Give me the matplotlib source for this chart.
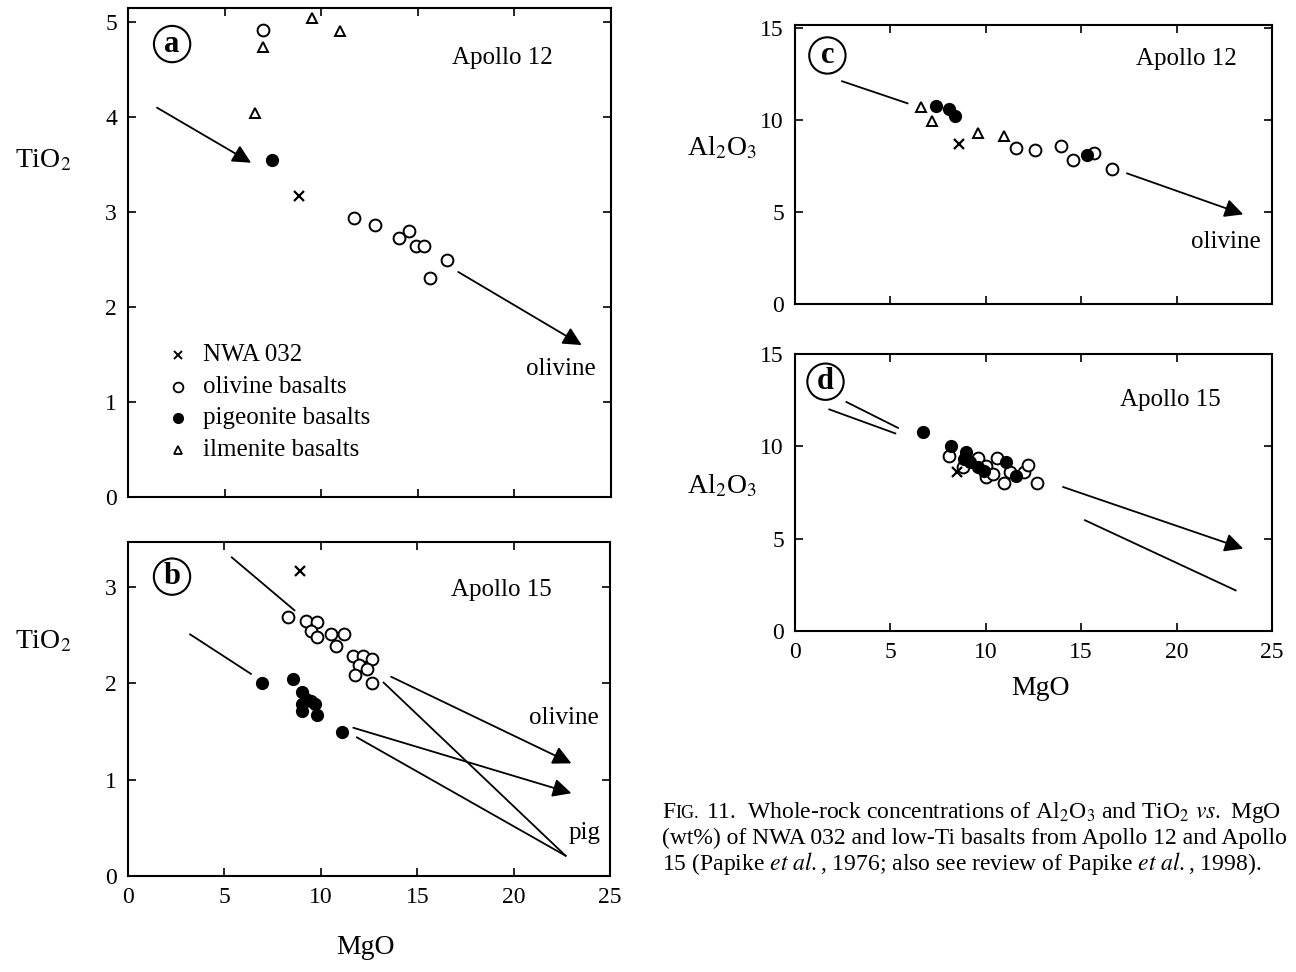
import matplotlib.pyplot as plt

plt.rcParams['font.family'] = ['Liberation Serif', 'DejaVu Serif']
plt.rcParams['mathtext.fontset'] = 'stix'

# ---- panel a: Apollo 12, TiO2 vs MgO
a_nwa_x = [8.83]
a_nwa_y = [3.17]
a_ol_x = [6.96, 11.68, 12.76, 14.53, 14.04, 14.92, 15.32, 16.50, 15.61]
a_ol_y = [4.92, 2.94, 2.86, 2.80, 2.73, 2.64, 2.64, 2.50, 2.31]
a_pig_x = [7.45]
a_pig_y = [3.55]
a_ilm_x = [6.96, 9.51, 10.99, 6.56]
a_ilm_y = [4.74, 5.04, 4.91, 4.04]

# ---- panel b: Apollo 15, TiO2 vs MgO
b_nwa_x = [8.92]
b_nwa_y = [3.17]
b_ol_x = [8.28, 9.22, 9.81, 9.51, 9.81, 10.50, 11.19, 10.79, 11.68, 12.17, 12.66, 11.97, 12.37, 11.78, 12.66]
b_ol_y = [2.69, 2.65, 2.64, 2.55, 2.48, 2.51, 2.51, 2.39, 2.29, 2.29, 2.25, 2.19, 2.15, 2.09, 2.00]
b_pig_x = [6.96, 8.53, 9.02, 9.22, 9.51, 9.02, 9.71, 9.02, 9.81, 11.09]
b_pig_y = [2.01, 2.05, 1.91, 1.84, 1.82, 1.79, 1.79, 1.71, 1.67, 1.50]

# ---- panel c: Apollo 12, Al2O3 vs MgO
c_nwa_x = [8.6]
c_nwa_y = [8.7]
c_ol_x = [11.6, 12.6, 13.95, 14.6, 15.7, 16.6]
c_ol_y = [8.5, 8.34, 8.6, 7.8, 8.18, 7.36]
c_pig_x = [7.4, 8.1, 8.4, 15.3]
c_pig_y = [10.77, 10.6, 10.2, 8.07]
c_ilm_x = [6.6, 7.2, 9.6, 10.95]
c_ilm_y = [10.72, 9.96, 9.3, 9.1]

# ---- panel d: Apollo 15, Al2O3 vs MgO
d_nwa_x = [8.5]
d_nwa_y = [8.6]
d_ol_x = [8.05, 8.8, 9.6, 10.0, 10.0, 10.4, 10.6, 11.26, 10.95, 12.0, 12.2, 12.7]
d_ol_y = [9.46, 8.9, 9.35, 8.92, 8.33, 8.49, 9.35, 8.6, 8.0, 8.6, 8.98, 8.0]
d_pig_x = [6.7, 8.16, 8.95, 8.84, 9.2, 9.6, 9.9, 11.05, 11.6]
d_pig_y = [10.75, 10.0, 9.68, 9.3, 9.14, 8.87, 8.66, 9.14, 8.4]

# trend lines (start, end) and whether they carry an arrow head
a_lines = [((1.50, 4.10), (6.37, 3.52), True), ((17.09, 2.37), (23.48, 1.60), True)]
b_lines = [((5.38, 3.31), (8.63, 2.76), False), ((3.22, 2.51), (6.37, 2.10), False),
           ((13.64, 2.07), (22.99, 1.17), True), ((13.25, 2.01), (22.69, 0.21), False),
           ((11.68, 1.54), (22.99, 0.86), True), ((11.87, 1.44), (22.69, 0.21), False)]
c_lines = [((2.47, 12.1), (5.9, 10.9), False), ((17.4, 7.1), (23.5, 4.87), True)]
d_lines = [((2.7, 12.4), (5.4, 11.0), False), ((1.8, 12.0), (5.26, 10.7), False),
           ((14.05, 7.8), (23.5, 4.46), True), ((15.2, 6.0), (23.1, 2.2), False)]

fig = plt.figure(figsize=(12.96, 9.72), dpi=100)
ax_a = fig.add_axes([0.0988, 0.4887, 0.3727, 0.5031])
ax_b = fig.add_axes([0.0988, 0.0988, 0.3720, 0.3436])
ax_c = fig.add_axes([0.6134, 0.6872, 0.3680, 0.2870])
ax_d = fig.add_axes([0.6134, 0.3508, 0.3680, 0.2850])

ms_o = 8.5
ms_t = 7


def scatter(ax, nx, ny, ox, oy, px, py, tx=None, ty=None):
    ax.plot(ox, oy, 'o', mfc='white', mec='black', mew=1.4, ms=ms_o, ls='none', zorder=3)
    ax.plot(px, py, 'o', mfc='black', mec='black', ms=ms_o, ls='none', zorder=4)
    if tx is not None:
        ax.plot(tx, ty, '^', mfc='white', mec='black', mew=1.4, ms=ms_t, ls='none', zorder=3)
    ax.plot(nx, ny, 'x', color='black', mew=1.6, ms=6.5, ls='none', zorder=5)


def draw_lines(ax, lines):
    for start, end, head in lines:
        if head:
            ax.annotate('', xy=end, xytext=start,
                        arrowprops=dict(arrowstyle='-|>', color='black', lw=1.3,
                                        mutation_scale=28, shrinkA=0, shrinkB=0))
        else:
            ax.plot([start[0], end[0]], [start[1], end[1]], color='black', lw=1.3)


def style(ax, ylim, yticks, xlabels):
    ax.set_xlim(0, 25)
    ax.set_ylim(*ylim)
    ax.set_xticks([0, 5, 10, 15, 20, 25])
    ax.set_yticks(yticks)
    ax.tick_params(direction='in', top=True, right=True, length=6, width=1.2,
                   labelsize=17, pad=8)
    if not xlabels:
        ax.set_xticklabels([])
    for s in ax.spines.values():
        s.set_linewidth(1.5)


def label(ax, letter, x, y, place, px, py):
    ax.text(x, y, letter, fontsize=22, fontweight='bold', ha='center', va='center',
            bbox=dict(boxstyle='circle,pad=0.12', fc='white', ec='black', lw=1.5))
    ax.text(px, py, place, fontsize=18, ha='center', va='center')


scatter(ax_a, a_nwa_x, a_nwa_y, a_ol_x, a_ol_y, a_pig_x, a_pig_y, a_ilm_x, a_ilm_y)
draw_lines(ax_a, a_lines)
style(ax_a, (0, 5.15), [0, 1, 2, 3, 4, 5], False)
label(ax_a, 'a', 2.28, 4.77, 'Apollo 12', 19.36, 4.62)
ax_a.text(22.41, 1.35, 'olivine', fontsize=18, ha='center', va='center')

# legend drawn inside panel a
leg_y = [1.50, 1.16, 0.83, 0.50]
leg_txt = ['NWA 032', 'olivine basalts', 'pigeonite basalts', 'ilmenite basalts']
ax_a.plot([2.59], [leg_y[0]], 'x', color='black', mew=1.4, ms=5.5)
ax_a.plot([2.59], [leg_y[1]], 'o', mfc='white', mec='black', mew=1.3, ms=7)
ax_a.plot([2.59], [leg_y[2]], 'o', mfc='black', mec='black', ms=7)
ax_a.plot([2.59], [leg_y[3]], '^', mfc='white', mec='black', mew=1.3, ms=6)
for yy, tt in zip(leg_y, leg_txt):
    ax_a.text(3.88, yy, tt, fontsize=18, va='center')

scatter(ax_b, b_nwa_x, b_nwa_y, b_ol_x, b_ol_y, b_pig_x, b_pig_y)
draw_lines(ax_b, b_lines)
style(ax_b, (0, 3.47), [0, 1, 2, 3], True)
label(ax_b, 'b', 2.28, 3.11, 'Apollo 15', 19.36, 2.97)
ax_b.text(22.62, 1.64, 'olivine', fontsize=18, ha='center', va='center')
ax_b.text(23.65, 0.45, 'pig', fontsize=18, ha='center', va='center')

scatter(ax_c, c_nwa_x, c_nwa_y, c_ol_x, c_ol_y, c_pig_x, c_pig_y, c_ilm_x, c_ilm_y)
draw_lines(ax_c, c_lines)
style(ax_c, (0, 15.15), [0, 5, 10, 15], False)
label(ax_c, 'c', 1.7, 13.5, 'Apollo 12', 20.5, 13.3)
ax_c.text(22.6, 3.36, 'olivine', fontsize=18, ha='center', va='center')

scatter(ax_d, d_nwa_x, d_nwa_y, d_ol_x, d_ol_y, d_pig_x, d_pig_y)
draw_lines(ax_d, d_lines)
style(ax_d, (0, 15), [0, 5, 10, 15], True)
label(ax_d, 'd', 1.6, 13.5, 'Apollo 15', 19.7, 12.5)

# axis titles
fig.text(0.033, 0.835, r'TiO$_2$', fontsize=20, ha='center', va='center')
fig.text(0.033, 0.340, r'TiO$_2$', fontsize=20, ha='center', va='center')
fig.text(0.557, 0.848, r'Al$_2$O$_3$', fontsize=20, ha='center', va='center')
fig.text(0.557, 0.500, r'Al$_2$O$_3$', fontsize=20, ha='center', va='center')
fig.text(0.282, 0.025, 'MgO', fontsize=20, ha='center', va='center')
fig.text(0.803, 0.292, 'MgO', fontsize=20, ha='center', va='center')

# caption
cap_x = 0.511
cap_y = [1 - 818 / 972, 1 - 844 / 972, 1 - 870 / 972]
f1 = fig.text(cap_x, cap_y[0], 'F', fontsize=17, va='baseline')
f2 = plt.annotate('IG.', xy=(1, cap_y[0]), xycoords=(f1, 'figure fraction'),
                  fontsize=13, va='baseline', annotation_clip=False)
plt.annotate(r'11.  Whole-rock concentrations of Al$_2$O$_3$ and TiO$_2$ $vs.$ MgO',
             xy=(1, cap_y[0]), xycoords=(f2, 'figure fraction'),
             xytext=(5, 0), textcoords='offset points',
             fontsize=17, va='baseline', annotation_clip=False)
fig.text(cap_x, cap_y[1], '(wt%) of NWA 032 and low-Ti basalts from Apollo 12 and Apollo',
         fontsize=17, va='baseline')
fig.text(cap_x, cap_y[2],
         r'15 (Papike $et\ al.\mathregular{,}$ 1976; also see review of Papike $et\ al.\mathregular{,}$ 1998).',
         fontsize=17, va='baseline')

plt.savefig('out.png', dpi=100)
